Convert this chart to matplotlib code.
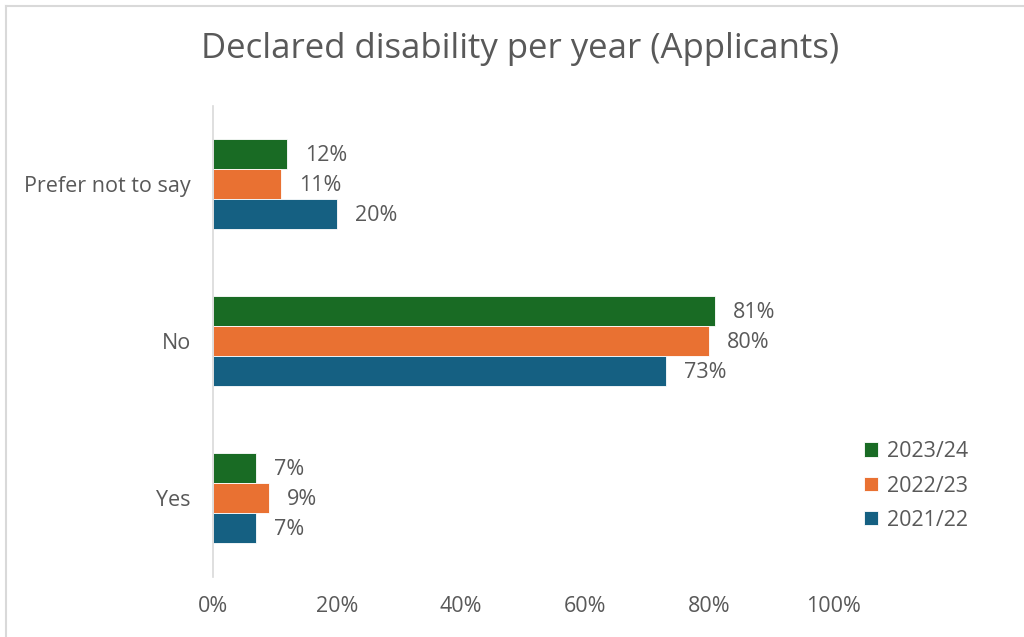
import matplotlib
matplotlib.use("Agg")
import matplotlib.pyplot as plt
from matplotlib.lines import Line2D
import numpy as np

categories = ["Yes", "No", "Prefer not to say"]
years = ["2023/24", "2022/23", "2021/22"]
values = {
    "2023/24": [7, 81, 12],
    "2022/23": [9, 80, 11],
    "2021/22": [7, 73, 20],
}
colors = {"2023/24": "#196B24", "2022/23": "#E97132", "2021/22": "#156082"}
xticks = [0, 20, 40, 60, 80, 100]

plt.rcParams["font.family"] = ["Open Sans", "DejaVu Sans"]
text_color = "#595959"
fs = 15.5

fig = plt.figure(figsize=(10.24, 6.37), dpi=100)
ax = fig.add_axes([213 / 1024, 1 - 576.5 / 637, 620 / 1024, 471 / 637])

bar_h = 0.191
offsets = {"2023/24": bar_h, "2022/23": 0.0, "2021/22": -bar_h}
y = np.arange(len(categories))
for yr in years:
    vals = values[yr]
    ax.barh(y + offsets[yr], vals, height=bar_h, color=colors[yr],
            edgecolor="white", linewidth=0.6, label=yr)
    for yi, v in zip(y, vals):
        ax.annotate(f"{v}%", (v, yi + offsets[yr]), xytext=(13, -1),
                    textcoords="offset points", va="center", ha="left",
                    fontsize=fs, color=text_color)

ax.set_xlim(0, 100)
ax.set_ylim(-0.5, 2.5)
ax.set_xticks(xticks)
ax.set_xticklabels([f"{t}%" for t in xticks], fontsize=fs, color=text_color)
ax.set_yticks(y)
ax.set_yticklabels(categories, fontsize=fs, color=text_color)
ax.tick_params(axis="both", length=0)
ax.tick_params(axis="x", pad=14)
ax.tick_params(axis="y", pad=16)
for s in ["top", "right", "bottom"]:
    ax.spines[s].set_visible(False)
ax.spines["left"].set_color("#D9D9D9")
ax.spines["left"].set_linewidth(1.2)

fig.text(520 / 1024, 1 - 49 / 637, "Declared disability per year (Applicants)",
         ha="center", va="center", fontsize=25, color=text_color)

handles, labels = ax.get_legend_handles_labels()
leg = fig.legend(handles, labels, loc="center left",
                 bbox_to_anchor=(845 / 1024, 1 - 486 / 637), frameon=False,
                 fontsize=fs, labelcolor=text_color, handlelength=0.65,
                 handleheight=0.65, handletextpad=0.4, labelspacing=0.62)

# thin frame along the top and left edges
fig.add_artist(Line2D([6 / 1024, 6 / 1024], [0, 1 - 6 / 637],
                      transform=fig.transFigure, color="#D9D9D9", lw=1.5))
fig.add_artist(Line2D([6 / 1024, 1], [1 - 6 / 637, 1 - 6 / 637],
                      transform=fig.transFigure, color="#D9D9D9", lw=1.5))

fig.savefig("out.png", dpi=100, facecolor="white")
